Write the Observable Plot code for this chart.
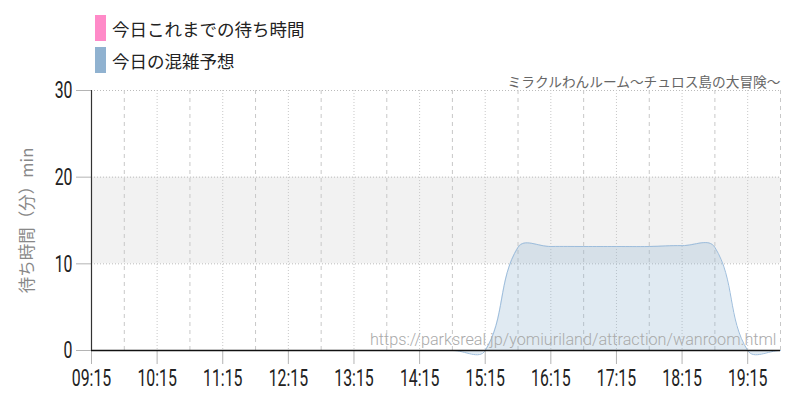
<!DOCTYPE html>
<html><head><meta charset="utf-8">
<script src="https://cdn.jsdelivr.net/npm/d3@7"></script>
<script src="https://cdn.jsdelivr.net/npm/@observablehq/plot@0.6"></script>
<style>
body{margin:0;background:#fff;width:800px;height:400px;overflow:hidden;position:relative;font-family:"Noto Sans CJK JP",sans-serif;}
#legend{position:absolute;left:95px;top:12px;z-index:2;}
.item{display:flex;align-items:center;height:32px;font-size:17.5px;color:#222;}
.sw{width:11px;height:26px;margin-right:6px;}
g[aria-label="x-axis tick label"], g[aria-label="y-axis tick label"],
g[aria-label="x-axis tick label"] text, g[aria-label="y-axis tick label"] text{
  font-family:Roboto,sans-serif !important;font-weight:400 !important;font-size:24px !important;}
</style></head>
<body>
<div id="chart"></div>
<div id="legend"></div>
<script>
const seriesNames = ["今日これまでの待ち時間", "今日の混雑予想"];
const seriesColors = ["#ff8ac8", "#90b2d0"];
const times = ["09:15","09:45","10:15","10:45","11:15","11:45","12:15","12:45","13:15","13:45","14:15","14:45","15:15","15:45","16:15","16:45","17:15","17:45","18:15","18:45","19:15","19:45"];
const predicted = [0,0,0,0,0,0,0,0,0,0,0,0,0,11.9,12.0,12.0,12.0,12.0,12.1,11.9,0,0];
const xTickLabels = ["09:15","10:15","11:15","12:15","13:15","14:15","15:15","16:15","17:15","18:15","19:15"];
const halfGridLabels = ["09:45","10:45","11:45","12:45","13:45","14:45","15:45","16:45","17:45","18:45","19:45"];
const yTicks = [0,10,20,30];
const band = [10,20];
const title = "ミラクルわんルーム〜チュロス島の大冒険〜";
const url = "https://parksreal.jp/yomiuriland/attraction/wanroom.html";
const yLabel = "待ち時間（分）min";

const toDate = s => new Date(Date.UTC(2024,0,1,+s.slice(0,2),+s.slice(3,5)));
const data = times.map((t,i)=>({t:toDate(t), v:predicted[i]}));
const x0 = toDate(times[0]), x1 = toDate(times[times.length-1]);

// Chart.js-style bezier spline (tension 0.4) as a d3 curve factory
class SplineCurve {
  constructor(ctx){ this._context = ctx; }
  areaStart(){ this._line = 0; }
  areaEnd(){ this._line = NaN; }
  lineStart(){ this._pts = []; }
  point(x, y){ this._pts.push([+x, +y]); }
  lineEnd(){
    const p = this._pts, n = p.length, ctx = this._context, t = 0.4;
    if (!n) return;
    if (this._line) ctx.lineTo(p[0][0], p[0][1]); else ctx.moveTo(p[0][0], p[0][1]);
    const cp = p.map((c, i) => {
      const pr = p[i-1] || c, nx = p[i+1] || c;
      const d01 = Math.hypot(c[0]-pr[0], c[1]-pr[1]);
      const d12 = Math.hypot(nx[0]-c[0], nx[1]-c[1]);
      let s01 = d01/(d01+d12), s12 = d12/(d01+d12);
      if (!isFinite(s01)) s01 = 0; if (!isFinite(s12)) s12 = 0;
      const fa = t*s01, fb = t*s12;
      return {a:[c[0]-fa*(nx[0]-pr[0]), c[1]-fa*(nx[1]-pr[1])], b:[c[0]+fb*(nx[0]-pr[0]), c[1]+fb*(nx[1]-pr[1])]};
    });
    for (let i = 1; i < n; i++) ctx.bezierCurveTo(cp[i-1].b[0], cp[i-1].b[1], cp[i].a[0], cp[i].a[1], p[i][0], p[i][1]);
    if (this._line || (this._line !== 0 && n === 1)) ctx.closePath();
    this._line = 1 - this._line;
  }
}
const splineCurve = ctx => new SplineCurve(ctx);

const lg = document.getElementById("legend");
seriesNames.forEach((n,i)=>{
  const d=document.createElement("div");d.className="item";
  d.innerHTML=`<span class="sw" style="background:${seriesColors[i]}"></span><span>${n}</span>`;
  lg.appendChild(d);
});

const chart = Plot.plot({
  width:800, height:400,
  marginTop:90, marginBottom:50, marginLeft:91, marginRight:20,
  style:{fontFamily:'"Noto Sans CJK JP",sans-serif', background:"transparent", overflow:"visible"},
  x:{type:"utc", domain:[x0,x1]},
  y:{domain:[0,30]},
  marks:[
    Plot.rect([band],{x1:()=>x0, x2:()=>x1, y1:d=>d[0], y2:d=>d[1], fill:"#f2f2f2"}),
    Plot.ruleY(yTicks.slice(1),{stroke:"#bbb", strokeDasharray:"1,2"}),
    Plot.ruleX(xTickLabels.slice(1).map(toDate),{stroke:"#c8c8c8", strokeDasharray:"1,2"}),
    Plot.ruleX(halfGridLabels.map(toDate),{stroke:"#c8c8c8", strokeDasharray:"4,4"}),
    Plot.areaY(data,{x:"t", y:"v", curve:splineCurve, fill:seriesColors[1], fillOpacity:0.28}),
    Plot.lineY(data,{x:"t", y:"v", curve:splineCurve, stroke:"#9dbddc", strokeWidth:1}),
    Plot.axisY({ticks:yTicks, tickSize:15, tickPadding:4, stroke:"#b4b4b4", fill:"#222", label:null}),
    Plot.axisX({ticks:xTickLabels.map(toDate), tickSize:14, tickPadding:4, stroke:"#b4b4b4", fill:"#222", tickFormat:d3.utcFormat("%H:%M"), label:null}),
    Plot.ruleY([0],{stroke:"#111", strokeWidth:1.5}),
    Plot.ruleX([x0],{stroke:"#333", strokeWidth:1.2}),
    Plot.text([yLabel],{frameAnchor:"left", dx:-64, rotate:-90, textAnchor:"middle", fontSize:16.5, fill:"#888", text:d=>d}),
    Plot.text([title],{frameAnchor:"top-right", dy:-13, textAnchor:"end", fontSize:13.7, fill:"#666", text:d=>d}),
    Plot.text([url],{frameAnchor:"bottom-right", dx:-4, dy:-6, textAnchor:"end", lineAnchor:"bottom", fontSize:16.2, fill:"#aaa", fontFamily:"Roboto", fontWeight:300, text:d=>d})
  ]
});
// condense the numeric tick labels horizontally (scale about each label's anchor)
chart.querySelectorAll('g[aria-label="x-axis tick label"] text, g[aria-label="y-axis tick label"] text').forEach(t=>{
  const xa=t.getAttribute("x");
  let tx=0;
  if (xa !== null && !isNaN(+xa)) { tx=+xa; t.removeAttribute("x"); }
  const tr=t.getAttribute("transform")||"";
  t.setAttribute("transform", `${tr} translate(${tx},0) scale(0.66,1)`);
});
const c=document.getElementById("chart");
c.style.position="absolute";c.style.left="0";c.style.top="0";
c.appendChild(chart);
</script>
</body></html>
